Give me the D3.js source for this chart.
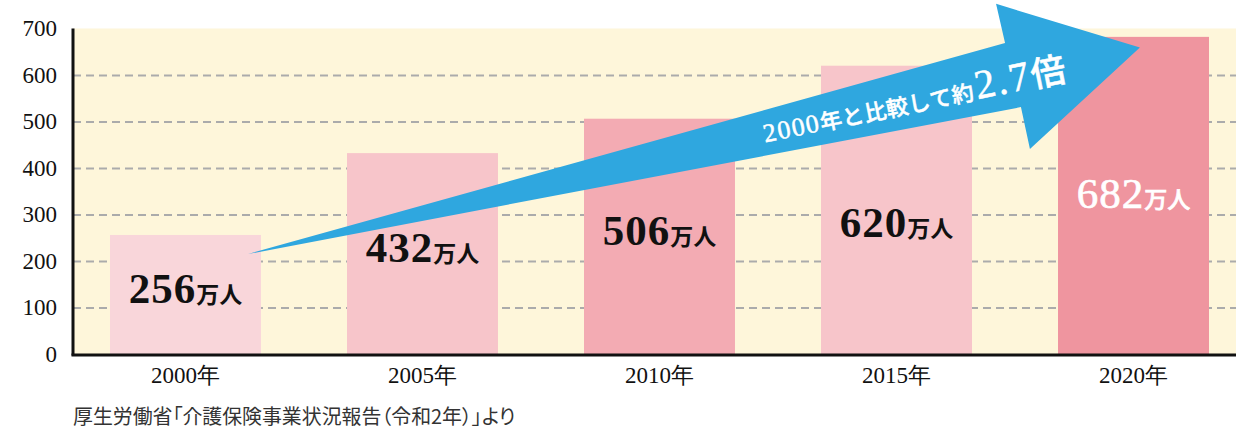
<!DOCTYPE html>
<html>
<head>
<meta charset="utf-8">
<script src="https://cdn.jsdelivr.net/npm/d3@7"></script>
<style>
  html, body { margin: 0; padding: 0; background: #ffffff; }
  svg { display: block; }
</style>
</head>
<body>
<svg id="chart" width="1236" height="432"></svg>
<script>
// ---- data ----
const years = ["2000", "2005", "2010", "2015", "2020"];
const values = [256, 432, 506, 620, 682];
const yTicks = [0, 100, 200, 300, 400, 500, 600, 700];
const unitLabel = "万人";
const yearSuffix = "年";
const arrowText = "年と比較して約";
const arrowBase = "2000";
const ratioText = "2.7";
const ratioSuffix = "倍";
const sourceText = "厚生労働省「介護保険事業状況報告（令和2年）」より";

// ---- layout / style ----
const W = 1236, H = 432;
const plot = { left: 73, right: 1236, top: 28.5, bottom: 354 };
const barColors = ["#F9D6DA", "#F7C5CA", "#F3ABB3", "#F7C5CA", "#EF959F"];
const labelColors = ["#111", "#111", "#111", "#111", "#ffffff"];
const labelWeights = ["bold", "bold", "bold", "bold", "normal"];
// label baselines in value units (placed freely around the arrow)
const labelAt = [110, 198, 234, 252, 314];
const serif = "'Liberation Serif', serif";
const cjk = "'Noto Sans CJK JP', 'Noto Sans', sans-serif";

const svg = d3.select("#chart");

const x = d3.scaleBand()
  .domain(years)
  .range([plot.left, plot.right])
  .paddingInner(0.363)
  .paddingOuter(0.135)
  .align(0.578);

const y = d3.scaleLinear().domain([0, 700]).range([plot.bottom, plot.top]);

// index scale for the arrow annotation (between bar centres)
const xi = d3.scaleLinear()
  .domain([0, years.length - 1])
  .range([x(years[0]) + x.bandwidth() / 2, x(years[years.length - 1]) + x.bandwidth() / 2]);

// background
svg.append("rect")
  .attr("x", plot.left).attr("y", plot.top)
  .attr("width", plot.right - plot.left).attr("height", plot.bottom - plot.top)
  .attr("fill", "#FEF6DA");

// y axis with grid
const yAxis = d3.axisLeft(y)
  .tickValues(yTicks)
  .tickSizeInner(-(plot.right - plot.left))
  .tickSizeOuter(0)
  .tickPadding(16);

const gy = svg.append("g")
  .attr("transform", `translate(${plot.left},0)`)
  .call(yAxis);
gy.select(".domain").remove();
gy.selectAll(".tick line")
  .attr("stroke", "#ABABAB")
  .attr("stroke-width", 2)
  .attr("stroke-dasharray", "8,5")
  .attr("opacity", d => (d === 0 || d === 700) ? 0 : 1);
gy.selectAll(".tick text")
  .attr("font-family", serif)
  .attr("font-size", 23)
  .attr("fill", "#111");

// bars
svg.append("g").selectAll("rect")
  .data(values)
  .join("rect")
  .attr("x", (d, i) => x(years[i]))
  .attr("y", d => y(d))
  .attr("width", x.bandwidth())
  .attr("height", d => y(0) - y(d))
  .attr("fill", (d, i) => barColors[i]);

// axes lines
svg.append("line")
  .attr("x1", plot.left).attr("x2", plot.left)
  .attr("y1", plot.top).attr("y2", plot.bottom + 1.5)
  .attr("stroke", "#111").attr("stroke-width", 3);

const xAxis = d3.axisBottom(x).tickSize(0).tickPadding(13)
  .tickFormat(d => d + yearSuffix);
const gx = svg.append("g")
  .attr("transform", `translate(0,${plot.bottom})`)
  .call(xAxis);
gx.select(".domain").remove();
gx.selectAll(".tick text")
  .attr("font-family", serif)
  .attr("font-size", 23)
  .attr("fill", "#111");
svg.append("line")
  .attr("x1", plot.left - 1.5).attr("x2", plot.right)
  .attr("y1", plot.bottom + 1).attr("y2", plot.bottom + 1)
  .attr("stroke", "#111").attr("stroke-width", 3);

// arrow annotation (index, value) points
const arrowPts = [
  [0.264, 215], [3.458, 669], [3.420, 753], [4.027, 659], [3.563, 441], [3.525, 531]
];
svg.append("path")
  .attr("d", d3.line().x(p => xi(p[0])).y(p => y(p[1]))(arrowPts) + "Z")
  .attr("fill", "#2FA7DF");

// arrow text
const tx = xi(2.445), ty = y(455);
const at = svg.append("text")
  .attr("transform", `translate(${tx},${ty}) rotate(-11.5)`)
  .attr("fill", "#ffffff")
  .attr("stroke", "#ffffff")
  .attr("stroke-width", 0.5);
at.append("tspan").attr("font-family", serif).attr("font-size", 26).attr("letter-spacing", 1.5).text(arrowBase);
at.append("tspan").attr("font-family", cjk).attr("font-weight", 500).attr("font-size", 22).attr("letter-spacing", 0.5).text(arrowText);
at.append("tspan").attr("font-family", serif).attr("font-size", 41).attr("letter-spacing", 2).attr("dx", 2).text(ratioText);
at.append("tspan").attr("font-family", cjk).attr("font-weight", 500).attr("font-size", 35).text(ratioSuffix);

// value labels
const lbl = svg.append("g").selectAll("text")
  .data(values)
  .join("text")
  .attr("x", (d, i) => x(years[i]) + x.bandwidth() / 2)
  .attr("y", (d, i) => y(labelAt[i]))
  .attr("text-anchor", "middle")
  .attr("fill", (d, i) => labelColors[i])
  .attr("stroke", (d, i) => labelWeights[i] === "bold" ? "none" : labelColors[i])
  .attr("stroke-width", 0.7);
lbl.append("tspan")
  .attr("font-family", serif)
  .attr("font-weight", (d, i) => labelWeights[i])
  .attr("font-size", 43)
  .attr("letter-spacing", 1)
  .text(d => d);
lbl.append("tspan")
  .attr("font-family", cjk)
  .attr("font-weight", (d, i) => labelWeights[i] === "bold" ? 700 : 500)
  .attr("font-size", 23)
  .text(unitLabel);

// source
svg.append("text")
  .attr("x", plot.left)
  .attr("y", 424)
  .attr("font-family", cjk)
  .attr("font-size", 19.9)
  .attr("fill", "#333")
  .style("font-feature-settings", "'palt'")
  .text(sourceText);
</script>
</body>
</html>
